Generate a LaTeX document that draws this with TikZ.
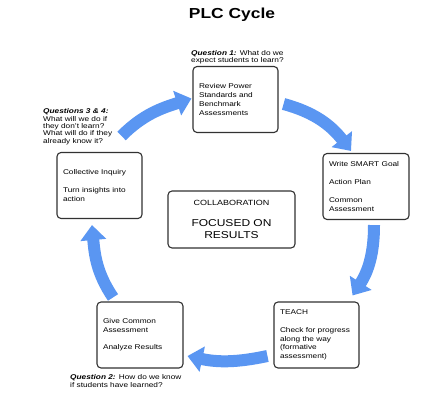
\documentclass[tikz,border=0pt]{standalone}
\usepackage{fontspec}
\setmainfont{Liberation Sans}[FakeStretch=1.2]
\usetikzlibrary{arrows.meta}
\definecolor{cyc}{RGB}{90,150,242}
\definecolor{boxline}{RGB}{50,50,50}
\begin{document}
\begin{tikzpicture}[x=1pt,y=1pt,
  cyclebox/.style={draw=boxline, line width=1.1pt, rounded corners=4pt, fill=white,
    text width=73pt, inner xsep=6pt, inner ysep=2pt, minimum height=66pt,
    align=left, font=\fontsize{6.9}{8.7}\selectfont},
  centerbox/.style={draw=boxline, line width=1.1pt, rounded corners=4pt, fill=white,
    minimum width=127pt, minimum height=57pt, align=center,
    font=\fontsize{10}{12}\selectfont},
  question/.style={anchor=north west, inner sep=0pt, align=left,
    font=\fontsize{6.9}{7.4}\selectfont},
  cyclearrow/.style={draw=cyc, line width=12pt, -{Triangle[length=15pt,width=25pt]}}]
\useasboundingbox[fill=white] (0,0) rectangle (444,-404);

\node[font=\fontsize{14.5}{17}\selectfont\bfseries] (title) at (232,-14.5) {PLC Cycle};

\node[cyclebox] (review) at (235.5,-99.5) {Review Power\\Standards and\\Benchmark\\Assessments};
\node[cyclebox, text width=74pt] (smart) at (366,-186.5) {Write SMART Goal\\[9pt]Action Plan\\[9pt]Common\\Assessment};
\node[cyclebox] (teach) at (316.5,-335) {TEACH\\[9pt]Check for progress\\along the way\\(formative\\assessment)};
\node[cyclebox, text width=74pt] (give) at (140,-335) {Give Common\\Assessment\\[9pt]Analyze Results};
\node[cyclebox] (inquiry) at (99.5,-185.5) {Collective Inquiry\\[9pt]Turn insights into\\action};
\node[centerbox] (center) at (231.5,-219.5) {{\fontsize{7.5}{9}\selectfont COLLABORATION}\\[9pt]FOCUSED ON\\RESULTS};

\node[question] (q1) at (191,-50) {\textbf{\textit{Question 1:}} What do we\\expect students to learn?};
\node[question] (q34) at (43,-108.5) {\textbf{\textit{Questions 3 \& 4:}}\\What will we do if\\they don't learn?\\What will do if they\\already know it?};
\node[question] (q2) at (70,-374.5) {\textbf{\textit{Question 2:}} How do we know\\if students have learned?};

\draw[cyclearrow] ([shift={(-21pt,16pt)}]inquiry.north east) to[out=45,in=198] ([shift={(-1pt,1pt)}]review.west);
\draw[cyclearrow] ([shift={(5pt,-4.5pt)}]review.east) to[out=-15,in=128] ([shift={(-15pt,2pt)}]smart.north);
\draw[cyclearrow] ([shift={(8pt,-5pt)}]smart.south) to[out=-90,in=57] ([shift={(-7pt,6pt)}]teach.north east);
\draw[cyclearrow] ([shift={(-6pt,-21pt)}]teach.west) to[out=192,in=-12] ([shift={(4pt,-21pt)}]give.east);
\draw[cyclearrow] ([shift={(-27pt,4pt)}]give.north) to[out=124,in=-85] ([shift={(-7.5pt,-6pt)}]inquiry.south);
\end{tikzpicture}
\end{document}
